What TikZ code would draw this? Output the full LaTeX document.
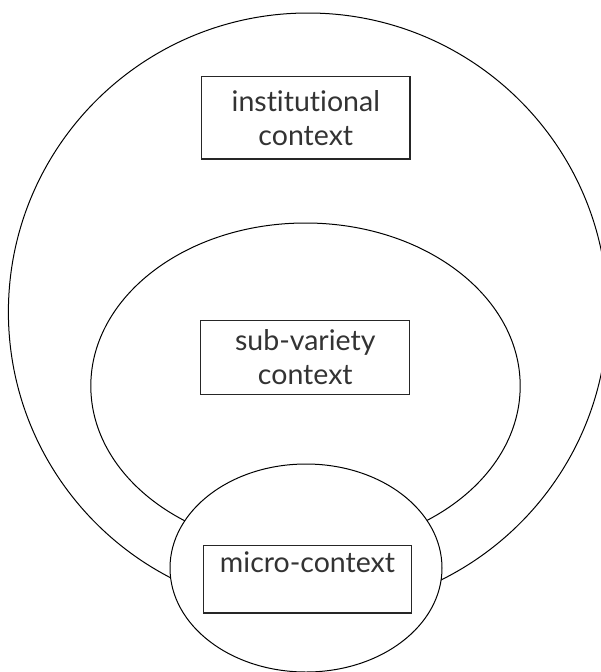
\documentclass[tikz,border=0pt]{standalone}
\usepackage{fontspec}
\setmainfont{Lato}[Ligatures={NoCommon}]
\usetikzlibrary{shapes.geometric}
\begin{document}
\begin{tikzpicture}[x=1pt,y=-1pt,
  ring/.style={ellipse, draw=black, line width=1pt, inner sep=0pt},
  ctxbox/.style={rectangle, draw=black!85, line width=1.3pt, fill=white, inner sep=0pt,
    align=center, text=black!80, font=\fontsize{28.5}{34}\selectfont}]
\useasboundingbox (0,0) rectangle (601,672);
\fill[white] (0,0) rectangle (601,672);
\node[ring, minimum width=599.2pt, minimum height=598pt] (outer) at (308,312) {};
\node[ring, minimum width=429.4pt, minimum height=326pt] (inner) at (305.5,386) {};
\node[ring, fill=white, minimum width=272pt, minimum height=208pt] (micro) at (306,568) {};
\node[ctxbox, minimum width=208.5pt, minimum height=82.7pt] (inst) at (305.8,117.7) {institutional\\context};
\node[ctxbox, minimum width=209pt, minimum height=73.5pt] (sub) at (305.3,357.5) {sub-variety\\context};
\node[ctxbox, minimum width=208.4pt, minimum height=67.7pt] (mic) at (307.5,579) {micro-context\\\mbox{}};
\end{tikzpicture}
\end{document}
